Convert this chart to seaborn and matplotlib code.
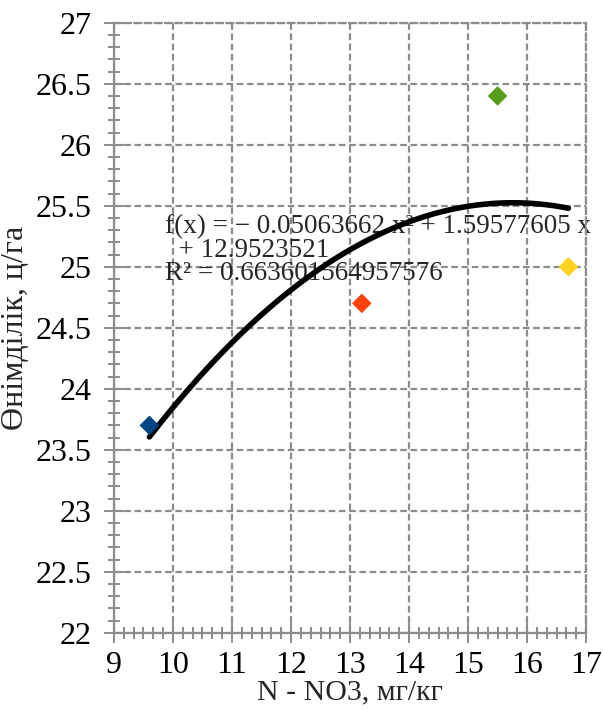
import numpy as np
import pandas as pd
import seaborn as sns
import matplotlib.pyplot as plt
from matplotlib.ticker import MultipleLocator

# data
no3 = [9.6, 13.2, 15.5, 16.7]
yield_vals = [23.7, 24.7, 26.4, 25.0]
point_colors = ["#004586", "#ff420e", "#579d1c", "#ffd320"]
coef = [-0.05063662, 1.59577605, 12.9523521]
r2_text = "0.663601564957576"

x_ticks = list(range(9, 18))
y_ticks = [22 + 0.5 * i for i in range(11)]

sns.set_theme(style="ticks")
plt.rcParams["font.family"] = ["Liberation Serif", "DejaVu Serif"]

df = pd.DataFrame({"x": no3, "y": yield_vals, "c": [str(i) for i in range(len(no3))]})

fig = plt.figure(figsize=(6.03, 7.11), dpi=100)
ax = fig.add_axes([0.189, 0.110, 0.783, 0.858])

grid_c = "#8c8c8c"
dash = (0, (3, 1.6))
ax.set_xlim(9, 17)
ax.set_ylim(22, 27)
ax.set_xticks(x_ticks)
ax.set_yticks(y_ticks)
ax.set_yticklabels([f"{v:g}" for v in y_ticks])
ax.xaxis.set_minor_locator(MultipleLocator(1 / 6))
ax.yaxis.set_minor_locator(MultipleLocator(0.1))
ax.grid(True, which="major", color=grid_c, linestyle=dash, linewidth=1.6)
ax.grid(False, which="minor")
ax.set_axisbelow(True)

for s in ["top", "right"]:
    ax.spines[s].set_color(grid_c)
    ax.spines[s].set_linewidth(1.6)
    ax.spines[s].set_linestyle(dash)
for s in ["left", "bottom"]:
    ax.spines[s].set_color(grid_c)
    ax.spines[s].set_linewidth(1.6)

ax.tick_params(axis="both", which="both", bottom=True, left=True, top=False, right=False)
ax.tick_params(axis="both", which="major", direction="inout", length=14, width=1.4,
               color=grid_c, labelsize=23, labelcolor="black")
ax.tick_params(axis="both", which="minor", direction="inout", length=9, width=1.4,
               color=grid_c)
ax.tick_params(axis="x", which="major", pad=6)
ax.tick_params(axis="y", which="major", pad=9)

# trend line
xs = np.linspace(min(no3), max(no3), 200)
ys = np.polyval(coef, xs)
sns.lineplot(x=xs, y=ys, ax=ax, color="black", linewidth=4, zorder=3)

sns.scatterplot(data=df, x="x", y="y", hue="c", palette=point_colors, marker="D",
                s=100, edgecolor="none", legend=False, ax=ax, zorder=4)

eq = (f"f(x) = − {abs(coef[0]):.8f} x² + {coef[1]:.8f} x\n"
      f"  + {coef[2]:.7f}\n"
      f"R² = {r2_text}")
ax.text(9.87, 25.43, eq, fontsize=19.5, va="top", ha="left", linespacing=0.92, zorder=2)

ax.set_xlabel("N - NO3, мг/кг", fontsize=21.5, labelpad=0)
ax.set_ylabel("Өнімділік, ц/га", fontsize=23, labelpad=4)

fig.savefig("out.png", dpi=100)
